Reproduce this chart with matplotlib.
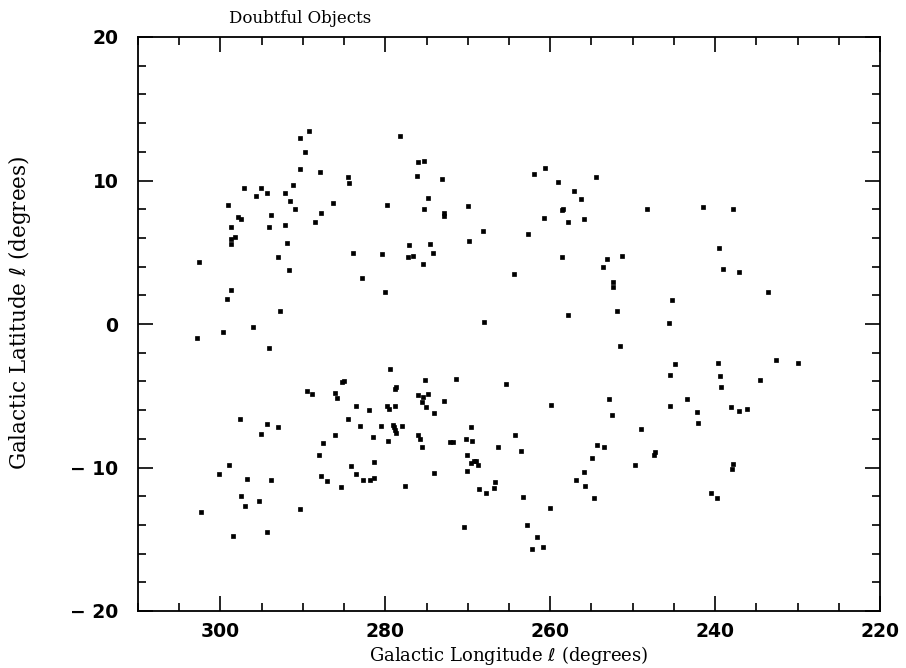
import matplotlib
matplotlib.use("Agg")
import matplotlib.pyplot as plt
from matplotlib.ticker import MultipleLocator, FixedFormatter

# positions of doubtful objects (galactic longitude, latitude in degrees)
north_lon = [289.28, 290.41, 289.72, 290.32, 287.90, 284.58, 284.38, 297.12, 295.11, 291.14,
             295.71, 294.38, 292.11, 291.59, 290.98, 286.37, 279.76, 299.06, 297.85, 297.53,
             293.81, 287.82, 298.70, 294.09, 292.23, 288.55, 298.75, 298.21, 298.78, 291.90,
             302.63, 293.04, 283.89, 280.37, 291.74, 282.80, 298.78, 299.15, 280.00, 292.80,
             278.18, 276.00, 275.27, 276.12, 273.17, 274.83, 275.32, 272.93, 272.93, 269.93,
             268.19, 269.86, 277.14, 274.54, 277.30, 276.61, 274.18, 275.44, 267.99, 262.00,
             260.58, 259.09, 254.44, 257.15, 256.26, 258.57, 258.40, 260.79, 257.79, 255.93,
             262.73, 251.32, 253.06, 253.54, 258.57, 264.39, 252.33, 252.38, 257.88, 251.93,
             248.25, 241.52, 237.81, 239.55, 239.02, 237.15, 233.63, 245.25, 245.62]
north_lat = [13.45, 12.94, 11.96, 10.78, 10.59, 10.24, 9.82, 9.45, 9.45, 9.68,
             8.89, 9.10, 9.12, 8.54, 8.01, 8.43, 8.31, 8.31, 7.47, 7.29,
             7.59, 7.77, 6.73, 6.75, 6.89, 7.12, 5.89, 6.03, 5.56, 5.63,
             4.31, 4.68, 4.96, 4.91, 3.73, 3.19, 2.35, 1.77, 2.23, 0.91,
             13.10, 11.31, 11.38, 10.29, 10.10, 8.75, 8.01, 7.72, 7.53, 8.19,
             6.45, 5.79, 5.54, 5.58, 4.68, 4.75, 4.94, 4.15, 0.14, 10.47,
             10.87, 9.91, 10.22, 9.26, 8.73, 7.94, 8.01, 7.36, 7.12, 7.29,
             6.26, 4.75, 4.50, 3.94, 4.64, 3.45, 2.96, 2.58, 0.66, 0.91,
             8.01, 8.15, 7.98, 5.31, 3.80, 3.61, 2.23, 1.68, 0.05]

south_lon = [296.08, 302.87, 299.63, 294.09, 285.27, 285.00, 289.47, 288.95, 286.12, 285.92,
             283.53, 282.00, 279.76, 279.60, 297.61, 294.38, 292.99, 295.11, 284.54, 283.12,
             280.58, 281.51, 279.73, 286.07, 287.58, 288.10, 281.39, 284.13, 283.61, 287.77,
             287.09, 285.43, 282.76, 281.83, 281.43, 298.94, 300.12, 296.81, 293.89, 297.45,
             295.30, 297.08, 302.39, 290.41, 298.46, 294.33,
             251.56, 279.40, 275.15, 271.39, 265.40, 278.67, 278.84, 276.00, 275.44, 274.79,
             275.56, 272.89, 275.08, 274.11, 278.84, 279.12, 279.00, 278.79, 278.72, 278.03,
             276.00, 275.76, 275.56, 272.15, 271.85, 269.57, 270.26, 269.53, 270.10, 269.61,
             269.20, 269.04, 268.72, 270.10, 266.37, 264.27, 263.50, 259.94, 252.90, 252.45,
             254.27, 253.47, 254.96, 255.85, 256.82, 255.81, 254.68, 274.06, 277.66, 266.70,
             266.86, 268.68, 267.74, 263.25, 259.98, 270.46, 262.82, 261.60, 262.16, 260.87,
             244.89, 239.67, 232.59, 229.92, 245.46, 239.42, 239.34, 234.53, 243.43, 245.53,
             242.25, 242.13, 238.13, 237.12, 236.18, 248.98, 247.35, 247.45, 249.71, 237.88,
             238.00, 240.55, 239.82]
south_lat = [-0.23, -0.98, -0.58, -1.70, -4.02, -4.00, -4.68, -4.89, -4.82, -5.14,
             -5.68, -5.96, -5.72, -5.90, -6.61, -6.95, -7.19, -7.65, -6.63, -7.12,
             -7.09, -7.86, -8.14, -7.72, -8.31, -9.14, -9.61, -9.91, -10.44, -10.58,
             -10.93, -11.38, -10.89, -10.86, -10.72, -9.86, -10.42, -10.82, -10.84, -11.96,
             -12.31, -12.66, -13.10, -12.89, -14.75, -14.49,
             -1.56, -3.16, -3.88, -3.84, -4.19, -4.37, -4.56, -4.98, -5.07, -4.91,
             -5.44, -5.35, -5.79, -6.19, -5.72, -7.02, -7.16, -7.42, -7.58, -7.12,
             -7.77, -8.00, -8.59, -8.19, -8.19, -7.16, -8.03, -8.14, -9.14, -9.70,
             -9.58, -9.52, -9.84, -10.26, -8.56, -7.72, -8.87, -5.65, -5.23, -6.37,
             -8.42, -8.56, -9.33, -10.28, -10.84, -11.31, -12.15, -10.40, -11.31, -11.03,
             -11.42, -11.52, -11.80, -12.03, -12.84, -14.17, -14.00, -14.87, -15.66, -15.52,
             -2.77, -2.75, -2.51, -2.72, -3.58, -3.60, -4.42, -3.88, -5.21, -5.70,
             -6.16, -6.93, -5.79, -6.07, -5.93, -7.33, -8.95, -9.10, -9.82, -9.73,
             -10.12, -11.80, -12.10]

x_ticks = [300, 280, 260, 240, 220]
y_ticks = [-20, -10, 0, 10, 20]
y_tick_labels = ["\u2212 20", "\u2212 10", "0", "10", "20"]

fig = plt.figure(figsize=(9.06, 6.68), dpi=100)
ax = fig.add_axes([138 / 906, 1 - 611 / 668, 742 / 906, 574 / 668])

ax.plot(north_lon + south_lon, north_lat + south_lat, linestyle="none",
        marker="s", markersize=2.4, markeredgewidth=0.5, color="black")

ax.set_xlim(310, 220)
ax.set_ylim(-20, 20)
ax.set_xticks(x_ticks)
ax.set_yticks(y_ticks)
ax.yaxis.set_major_formatter(FixedFormatter(y_tick_labels))
ax.xaxis.set_minor_locator(MultipleLocator(5))
ax.yaxis.set_minor_locator(MultipleLocator(2))
ax.tick_params(which="both", direction="in", top=True, right=True, width=1.2, color="black")
ax.tick_params(which="major", length=11)
ax.tick_params(which="minor", length=6)
ax.tick_params(axis="x", which="major", pad=8)
ax.tick_params(axis="y", which="major", pad=14)
for lab in ax.get_xticklabels() + ax.get_yticklabels():
    lab.set_fontfamily("DejaVu Sans")
    lab.set_fontweight("bold")
    lab.set_fontsize(13.5)
for s in ax.spines.values():
    s.set_linewidth(1.3)

ax.set_xlabel(r"Galactic Longitude $\ell$ (degrees)", fontfamily="DejaVu Serif", fontsize=13, labelpad=2)
ax.set_ylabel(r"Galactic Latitude $\ell$ (degrees)", fontfamily="DejaVu Serif", fontsize=15.5)
ax.yaxis.set_label_coords((33 - 138) / 742, 0.52)

fig.text(229 / 906, 1 - 23 / 668, "Doubtful Objects", fontfamily="DejaVu Serif", fontsize=12,
         va="baseline", ha="left")

fig.savefig("out.png", dpi=100)
